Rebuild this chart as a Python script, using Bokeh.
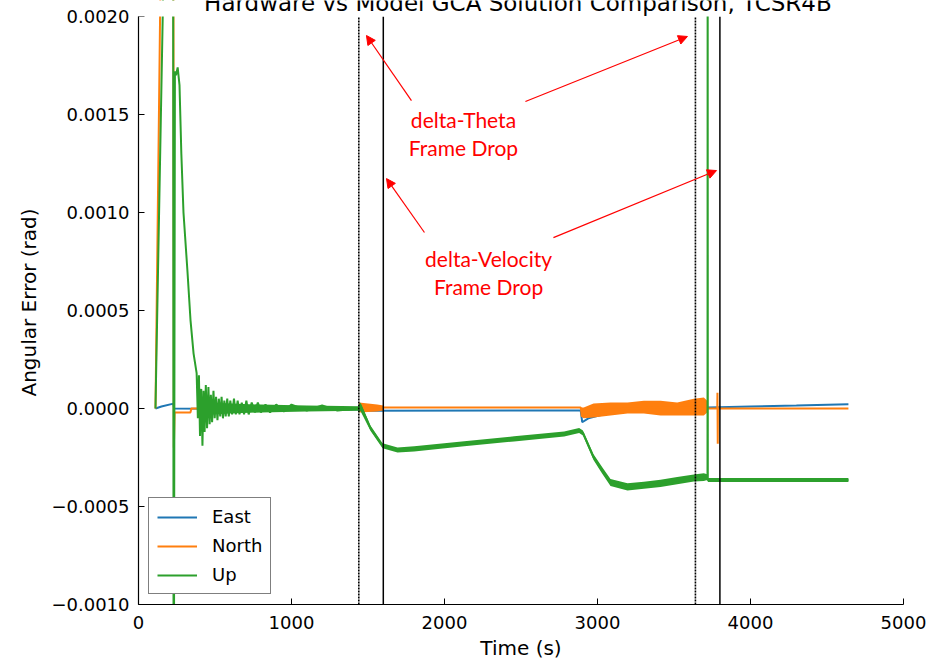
from bokeh.plotting import figure
from bokeh.models import (Range1d, FixedTicker, CustomJSTickFormatter, Label, BoxAnnotation,
                          Arrow, NormalHead, ColumnDataSource)
from bokeh.core.properties import value
from bokeh.embed import file_html
from bokeh.resources import INLINE

# ---------------- data ----------------
TITLE = "Hardware vs Model GCA Solution Comparison, TCSR4B"
x_ticks = [0, 1000, 2000, 3000, 4000, 5000]
y_ticks = [-0.001, -0.0005, 0.0, 0.0005, 0.001, 0.0015, 0.002]

east_t = [111, 150, 228, 233, 1440, 1460, 2890, 2900, 2940, 3085, 3400, 3720, 4000, 4300, 4640]
east_v = [0.0, 0.00001, 0.000025, 0.0, -0.000005, -0.000012, -0.00001, -0.00007, -0.00005,
          -0.00002, -0.000005, 0.000005, 0.00001, 0.000015, 0.000022]

north_t = [111, 150, 228, 231, 236, 340, 345, 1440, 1445, 1600, 2890, 2900, 3085, 3412, 3673,
           3715, 3720, 3783, 3784, 3786, 3787, 4640]
north_v = [0.0, 0.0026, 0.0026, -0.0002, -0.00002, -0.00002, 0.0, 0.0, 0.00001, 0.000005,
           0.000005, -0.00004, -0.000005, 0.000007, 0.000007, 0.00001, 0.0, 0.0, 0.00008,
           -0.00018, 0.0, 0.0]
north_band1_t = [1440, 1500, 1560, 1600]
north_band1_lo = [-0.00002, -0.000018, -0.000015, -0.00001]
north_band1_hi = [0.00003, 0.000025, 0.00002, 0.000015]
north_band2_t = [2890, 2910, 2974, 3085, 3196, 3303, 3412, 3521, 3630, 3695, 3717]
north_band2_lo = [-0.00004, -0.00005, -0.000046, -0.000036, -0.000026, -0.000026, -0.000036,
                  -0.000036, -0.000036, -0.000036, -0.00002]
north_band2_hi = [0.000005, 0.000005, 0.000025, 0.00003, 0.00003, 0.00004, 0.00004, 0.00003,
                  0.00005, 0.000056, 0.00004]

up_t = [111, 163, 226, 229, 232, 238, 245, 256, 268, 280, 294, 320, 340, 360,
        380, 388, 395, 402, 410, 418, 425, 432, 440, 448, 457, 465, 473, 481, 490, 498,
        507, 516, 525, 534, 543, 552, 561, 570, 580, 590, 600, 612, 624, 636, 648, 660,
        675, 690, 705, 720, 740, 760, 780, 800, 830, 860, 900, 950, 1000, 1100, 1200, 1300,
        1440, 1450, 1516, 1595, 1693, 1802, 2129, 2455, 2782, 2880, 2905, 2974, 3030, 3085,
        3196, 3303, 3412, 3521, 3630, 3695, 3717, 3719, 3720, 3721, 4640]
up_v = [0.0, 0.0022, 0.0030, -0.0012, -0.0012, 0.00172, 0.00170, 0.00174, 0.00165, 0.0013,
        0.0010, 0.0007, 0.00045, 0.00028,
        0.00018, -0.00005, 0.00017, -0.00014, 0.0001, -0.00019, 0.00009, -0.00012, 0.00012,
        -0.0001, 0.00011, -0.00008, 0.00007, -0.00007, 0.00009, -0.00005,
        0.00006, -0.00006, 0.00005, -0.00004, 0.00006, -0.00005, 0.00004, -0.00004, 0.00005,
        -0.00004, 0.00004, -0.00003, 0.00005, -0.00003, 0.00004, -0.00003,
        0.00003, -0.00003, 0.00004, -0.00003, 0.00003, -0.00002, 0.00003, -0.00002, 0.00002,
        -0.00002, 0.00002, -0.000015, 0.00002, -0.00001, 0.000015, -0.00001,
        0.0, 0.00002, -0.0001, -0.00019, -0.000212, -0.000206, -0.00018, -0.000155, -0.00013,
        -0.000112, -0.000125, -0.000248, -0.000315, -0.000378,
        -0.0004, -0.000392, -0.000382, -0.000368, -0.000355, -0.00035, -0.00035, -0.000365,
        0.0030, -0.000365, -0.000365]
up_band0_t = [480, 600, 800, 1100, 1440]
up_band0_lo = [-0.00003, -0.000025, -0.00002, -0.000015, -0.000012]
up_band0_hi = [0.00003, 0.000025, 0.00002, 0.000015, 0.000012]
up_band1_t = [1440, 1450, 1516, 1595, 1693, 1802, 2129, 2455, 2782, 2880, 2905, 2974, 3030,
              3085, 3196, 3303, 3412, 3521, 3630, 3695, 3717, 3722, 4640]
up_band1_hi = [0.00002, 0.00003, -0.000087, -0.000177, -0.000199, -0.000193, -0.000167,
               -0.000142, -0.000117, -0.000099, -0.000112, -0.000233, -0.000298, -0.00036,
               -0.000382, -0.000374, -0.000364, -0.00035, -0.000337, -0.00033, -0.000335,
               -0.000355, -0.000355]
up_band1_lo = [-0.00002, -0.000012, -0.000113, -0.000203, -0.000225, -0.000219, -0.000193,
               -0.000168, -0.000143, -0.000125, -0.000138, -0.000263, -0.000332, -0.000396,
               -0.000418, -0.00041, -0.0004, -0.000386, -0.000373, -0.00037, -0.000365,
               -0.000375, -0.000375]

dotted_lines_t = [1440, 3640]
solid_lines_t = [1600, 3800]

note_text = ["delta-Theta", "Frame Drop", "delta-Velocity", "Frame Drop"]
note_x = [2124, 2124, 2288, 2288]
note_y = [0.001474, 0.001332, 0.000765, 0.000622]

arrow_x0 = [1784, 2529, 1869, 2712]
arrow_y0 = [0.001571, 0.001566, 0.000898, 0.000872]
arrow_x1 = [1490, 3588, 1621, 3778]
arrow_y1 = [0.001903, 0.001898, 0.001173, 0.001214]

BLUE, ORANGE, GREEN = "#1f77b4", "#ff7f0e", "#2ca02c"
FONT = "DejaVu Sans"

Y_MIN, Y_MAX = y_ticks[0], y_ticks[-1]
# the frame reaches the top of the canvas; 16 px (at 588 px per 0.003) lie above Y_MAX
Y_TOP = Y_MAX + (Y_MAX - Y_MIN) * 16 / 588

# ---------------- figure ----------------
p = figure(width=938, height=663, output_backend="svg", toolbar_location=None,
           x_range=Range1d(0, 5000), y_range=Range1d(Y_MIN, Y_TOP),
           min_border_left=138, min_border_right=35, min_border_top=0, min_border_bottom=59)
p.outline_line_color = None
p.xgrid.visible = False
p.ygrid.visible = False

for ax in (p.xaxis[0], p.yaxis[0]):
    ax.major_tick_in = 6
    ax.major_tick_out = 0
    ax.minor_tick_in = 0
    ax.minor_tick_out = 0
    ax.axis_line_color = "black"
    ax.axis_line_width = 1.2
    ax.major_tick_line_color = "black"
    ax.major_label_text_font = FONT
    ax.major_label_text_font_size = "18px"
    ax.major_label_text_color = "black"
    ax.axis_label_text_font = FONT
    ax.axis_label_text_font_size = "20px"
    ax.axis_label_text_font_style = "normal"
    ax.axis_label_text_color = "black"

p.yaxis.bounds = (Y_MIN, Y_MAX)
p.xaxis.ticker = FixedTicker(ticks=x_ticks)
p.yaxis.ticker = FixedTicker(ticks=y_ticks)
p.yaxis.formatter = CustomJSTickFormatter(
    code="var s = Math.abs(tick).toFixed(4); return (tick < -1e-12 ? '\u2212' : '') + s;")
p.xaxis.axis_label = "Time (s)"
p.yaxis.axis_label = "Angular Error (rad)"
p.xaxis.major_label_standoff = 11
p.xaxis.axis_label_standoff = 4
p.yaxis.major_label_standoff = 9
p.yaxis.axis_label_standoff = 7

# series
p.line(east_t, east_v, color=BLUE, line_width=2, legend_label="East")

p.varea(x=north_band1_t, y1=north_band1_lo, y2=north_band1_hi, fill_color=ORANGE)
p.varea(x=north_band2_t, y1=north_band2_lo, y2=north_band2_hi, fill_color=ORANGE)
p.line(north_t, north_v, color=ORANGE, line_width=2, legend_label="North")

p.varea(x=up_band0_t, y1=up_band0_lo, y2=up_band0_hi, fill_color=GREEN)
p.varea(x=up_band1_t, y1=up_band1_lo, y2=up_band1_hi, fill_color=GREEN)
p.line(up_t, up_v, color=GREEN, line_width=2, legend_label="Up")

# vertical markers (spanning the axes' y extent)
p.segment(x0=dotted_lines_t, y0=[Y_MIN] * len(dotted_lines_t), x1=dotted_lines_t,
          y1=[Y_MAX] * len(dotted_lines_t), line_color="black", line_width=1.6,
          line_dash="2 1")
p.segment(x0=solid_lines_t, y0=[Y_MIN] * len(solid_lines_t), x1=solid_lines_t,
          y1=[Y_MAX] * len(solid_lines_t), line_color="black", line_width=1.5)

# annotations
src = ColumnDataSource(dict(x=note_x, y=note_y, text=note_text))
p.text(x="x", y="y", text="text", source=src, text_color="red", text_font=value("Lato"),
       text_font_size="21px", text_align="center", text_baseline="middle")
for xs, ys, xe, ye in zip(arrow_x0, arrow_y0, arrow_x1, arrow_y1):
    p.add_layout(Arrow(x_start=xs, y_start=ys, x_end=xe, y_end=ye, line_color="red",
                       line_width=1.2,
                       end=NormalHead(size=9, fill_color="red", line_color="red")))

# everything above the axes' top edge is hidden, as the axes clip their data
p.add_layout(BoxAnnotation(bottom=Y_MAX, fill_color="white", fill_alpha=1.0,
                           line_color=None))

# title (cut off at the top of the window, as in the reference)
p.add_layout(Label(x=2480, y=Y_MAX, y_offset=14, text=TITLE, text_align="center",
                   text_baseline="alphabetic", text_font=FONT, text_font_size="23px",
                   text_color="black"))

# legend
lg = p.legend[0]
lg.location = "bottom_left"
lg.label_text_font = FONT
lg.label_text_font_size = "18px"
lg.label_text_color = "black"
lg.glyph_width = 40
lg.glyph_height = 20
lg.label_height = 20
lg.label_standoff = 15
lg.spacing = 8
lg.padding = 8
lg.margin = 10
lg.border_line_color = "black"
lg.border_line_width = 1.2
lg.background_fill_alpha = 1.0

open("out.html", "w").write(file_html(p, INLINE))
